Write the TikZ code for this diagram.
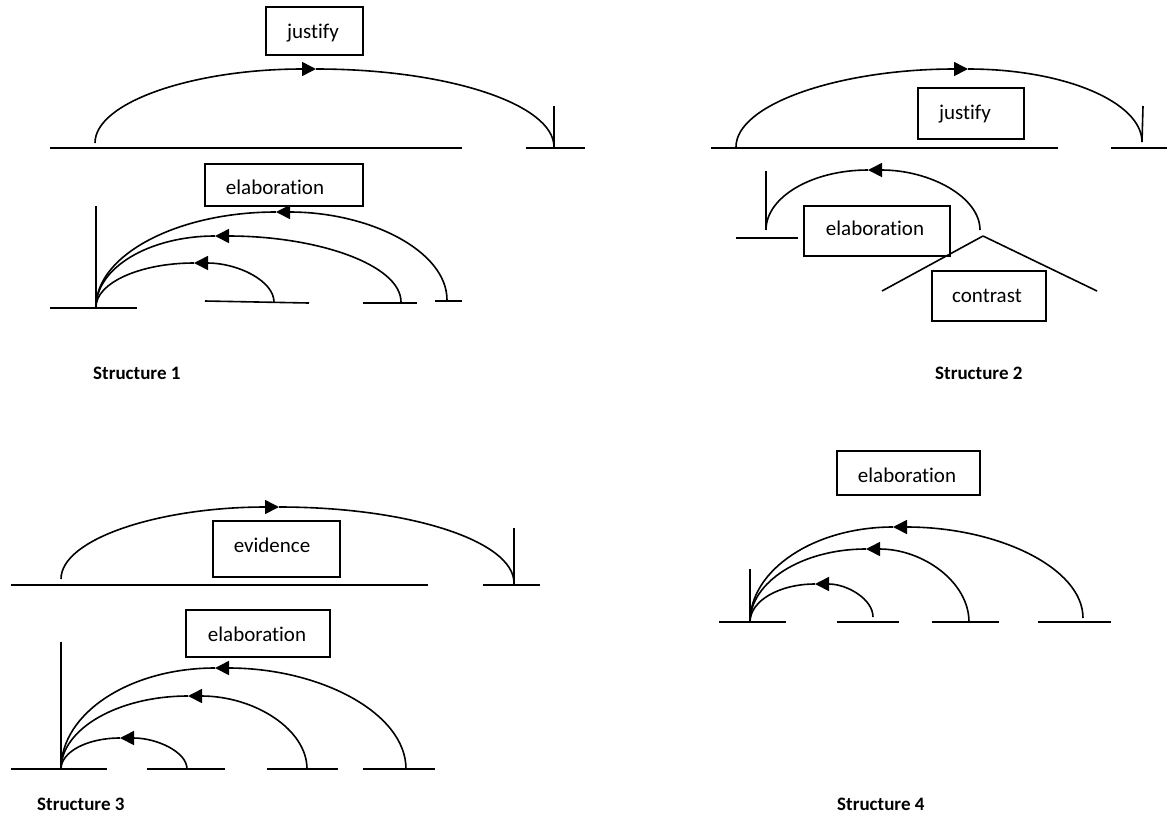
\documentclass[tikz,border=0pt]{standalone}
\usepackage{fontspec}
\setmainfont{Carlito}[Ligatures=NoCommon]
\usetikzlibrary{arrows.meta}
\begin{document}
\begin{tikzpicture}[x=1pt,y=-1pt,
  ln/.style={line width=1.6pt},
  tipped/.style={ln,-{Triangle[length=14pt,width=14pt]}},
  relbox/.style={draw,line width=1.4pt,inner sep=0pt},
  reltext/.style={anchor=base,inner sep=0pt,font=\fontsize{21}{25}\selectfont},
  caption/.style={anchor=base west,inner sep=0pt,font=\bfseries\fontsize{19}{23}\selectfont}]
\useasboundingbox (0,0) rectangle (1173,815);

% ---------------- Structure 1 ----------------
\node[relbox,minimum width=97pt,minimum height=48pt] (s1jbox) at (314.5,31) {};
\node[reltext] (s1jtxt) at (313,38) {justify};
\node[relbox,minimum width=158pt,minimum height=42pt] (s1ebox) at (284,185) {};
\node[reltext] (s1etxt) at (275,194) {elaboration};

\coordinate (s1la) at (50,148);  \coordinate (s1lb) at (462,148);
\coordinate (s1ra) at (526,148); \coordinate (s1rb) at (585,148);
\coordinate (s1tt) at (554,106); \coordinate (s1tb) at (554,148);
\draw[ln] (s1la) -- (s1lb);
\draw[ln] (s1ra) -- (s1rb);
\draw[ln] (s1tt) -- (s1tb);
\coordinate (s1S) at (95,143); \coordinate (s1P) at (316,69); \coordinate (s1E) at (554,147);
\draw[tipped] (s1S) .. controls +(0,-41) and +(-122,0) .. (s1P);
\draw[ln] (s1P) .. controls +(131,0) and +(0,-43) .. (s1E);

\coordinate (s1vt) at (96,206); \coordinate (s1O) at (96,307);
\draw[ln] (s1vt) -- (s1O);
\coordinate (s1b0a) at (50,308);  \coordinate (s1b0b) at (137,308);
\coordinate (s1b1a) at (205,301); \coordinate (s1b1b) at (309,303);
\coordinate (s1b2a) at (363,303); \coordinate (s1b2b) at (417,303);
\coordinate (s1b3a) at (435,301); \coordinate (s1b3b) at (462,301);
\draw[ln] (s1b0a) -- (s1b0b);
\draw[ln] (s1b1a) -- (s1b1b);
\draw[ln] (s1b2a) -- (s1b2b);
\draw[ln] (s1b3a) -- (s1b3b);
% fan of elaboration arcs
\coordinate (s1P1) at (194,263); \coordinate (s1E1) at (274,302);
\coordinate (s1P2) at (215,236); \coordinate (s1E2) at (401,302);
\coordinate (s1P3) at (276,212); \coordinate (s1E3) at (447,300);
\draw[tipped] (s1E1) .. controls +(0,-21) and +(44,0) .. (s1P1);
\draw[ln] (s1P1) .. controls +(-54,0) and +(0,-24) .. (s1O);
\draw[tipped] (s1E2) .. controls +(0,-37) and +(103,0) .. (s1P2);
\draw[ln] (s1P2) .. controls +(-66,0) and +(0,-39) .. (s1O);
\draw[tipped] (s1E3) .. controls +(0,-49) and +(94,0) .. (s1P3);
\draw[ln] (s1P3) .. controls +(-99,0) and +(0,-52) .. (s1O);

\node[caption] (cap1) at (93,379) {Structure 1};

% ---------------- Structure 2 ----------------
\node[relbox,minimum width=106pt,minimum height=51pt] (s2jbox) at (971,113.5) {};
\node[reltext] (s2jtxt) at (965,119) {justify};
\coordinate (s2la) at (711,148);  \coordinate (s2lb) at (1058,148);
\coordinate (s2ra) at (1111,148); \coordinate (s2rb) at (1167,148);
\coordinate (s2tt) at (1143,106); \coordinate (s2tb) at (1142,142);
\draw[ln] (s2la) -- (s2lb);
\draw[ln] (s2ra) -- (s2rb);
\draw[ln] (s2tt) -- (s2tb);
\coordinate (s2S) at (736,147); \coordinate (s2P) at (968,69); \coordinate (s2E) at (1142,142);
\draw[tipped] (s2S) .. controls +(0,-43) and +(-128,0) .. (s2P);
\draw[ln] (s2P) .. controls +(96,0) and +(0,-40) .. (s2E);

\coordinate (s2vt) at (766,171); \coordinate (s2O) at (766,230);
\draw[ln] (s2vt) -- (s2O);
\coordinate (s2sa) at (736,238); \coordinate (s2sb) at (798,238);
\draw[ln] (s2sa) -- (s2sb);
\coordinate (s2P1) at (868,170); \coordinate (s2E1) at (980,230);
\draw[tipped] (s2E1) .. controls +(0,-33) and +(62,0) .. (s2P1);
\draw[ln] (s2P1) .. controls +(-56,0) and +(0,-33) .. (s2O);
\node[relbox,minimum width=146pt,minimum height=50pt] (s2ebox) at (877,231) {};
\node[reltext] (s2etxt) at (875,235) {elaboration};

\coordinate (s2apex) at (983,236);
\coordinate (s2legl) at (882,291); \coordinate (s2legr) at (1097,291);
\draw[ln] (s2apex) -- (s2legl);
\draw[ln] (s2apex) -- (s2legr);
\node[relbox,minimum width=114pt,minimum height=50pt] (s2cbox) at (989,296) {};
\node[reltext] (s2ctxt) at (987,302) {contrast};

\node[caption] (cap2) at (935,379) {Structure 2};

% ---------------- Structure 3 ----------------
\node[relbox,minimum width=127pt,minimum height=56pt] (s3vbox) at (276.5,549) {};
\node[reltext] (s3vtxt) at (272,552) {evidence};
\coordinate (s3la) at (11,585);  \coordinate (s3lb) at (428,585);
\coordinate (s3ra) at (483,585); \coordinate (s3rb) at (540,585);
\coordinate (s3tt) at (514,528); \coordinate (s3tb) at (514,585);
\draw[ln] (s3la) -- (s3lb);
\draw[ln] (s3ra) -- (s3rb);
\draw[ln] (s3tt) -- (s3tb);
\coordinate (s3S) at (61,579); \coordinate (s3P) at (279,507); \coordinate (s3E) at (514,583);
\draw[tipped] (s3S) .. controls +(0,-40) and +(-120,0) .. (s3P);
\draw[ln] (s3P) .. controls +(130,0) and +(0,-42) .. (s3E);

\node[relbox,minimum width=144pt,minimum height=47pt] (s3ebox) at (258,633.5) {};
\node[reltext] (s3etxt) at (257,641) {elaboration};
\coordinate (s3vt) at (61,642); \coordinate (s3O) at (61,769);
\draw[ln] (s3vt) -- (s3O);
\coordinate (s3b0a) at (11,769);  \coordinate (s3b0b) at (107,769);
\coordinate (s3b1a) at (147,769); \coordinate (s3b1b) at (225,769);
\coordinate (s3b2a) at (267,769); \coordinate (s3b2b) at (338,769);
\coordinate (s3b3a) at (363,769); \coordinate (s3b3b) at (435,769);
\draw[ln] (s3b0a) -- (s3b0b);
\draw[ln] (s3b1a) -- (s3b1b);
\draw[ln] (s3b2a) -- (s3b2b);
\draw[ln] (s3b3a) -- (s3b3b);
\coordinate (s3P1) at (120,738); \coordinate (s3E1) at (187,769);
\coordinate (s3P2) at (188,696); \coordinate (s3E2) at (307,769);
\coordinate (s3P3) at (215,668); \coordinate (s3E3) at (406,769);
\draw[tipped] (s3E1) .. controls +(0,-17) and +(37,0) .. (s3P1);
\draw[ln] (s3P1) .. controls +(-33,0) and +(0,-17) .. (s3O);
\draw[tipped] (s3E2) .. controls +(0,-40) and +(66,0) .. (s3P2);
\draw[ln] (s3P2) .. controls +(-70,0) and +(0,-40) .. (s3O);
\draw[tipped] (s3E3) .. controls +(0,-56) and +(105,0) .. (s3P3);
\draw[ln] (s3P3) .. controls +(-85,0) and +(0,-56) .. (s3O);

\node[caption] (cap3) at (37,810) {Structure 3};

% ---------------- Structure 4 ----------------
\node[relbox,minimum width=143pt,minimum height=44pt] (s4ebox) at (908.5,473) {};
\node[reltext] (s4etxt) at (907,482) {elaboration};
\coordinate (s4vt) at (750,569); \coordinate (s4O) at (750,622);
\draw[ln] (s4vt) -- (s4O);
\coordinate (s4b0a) at (719,622);  \coordinate (s4b0b) at (786,622);
\coordinate (s4b1a) at (837,622);  \coordinate (s4b1b) at (899,622);
\coordinate (s4b2a) at (932,622);  \coordinate (s4b2b) at (999,622);
\coordinate (s4b3a) at (1038,622); \coordinate (s4b3b) at (1111,622);
\draw[ln] (s4b0a) -- (s4b0b);
\draw[ln] (s4b1a) -- (s4b1b);
\draw[ln] (s4b2a) -- (s4b2b);
\draw[ln] (s4b3a) -- (s4b3b);
\coordinate (s4P1) at (815,584); \coordinate (s4E1) at (873,617);
\coordinate (s4P2) at (866,549); \coordinate (s4E2) at (969,622);
\coordinate (s4P3) at (893,527); \coordinate (s4E3) at (1083,618);
\draw[tipped] (s4E1) .. controls +(0,-18) and +(32,0) .. (s4P1);
\draw[ln] (s4P1) .. controls +(-36,0) and +(0,-21) .. (s4O);
\draw[tipped] (s4E2) .. controls +(0,-40) and +(57,0) .. (s4P2);
\draw[ln] (s4P2) .. controls +(-64,0) and +(0,-40) .. (s4O);
\draw[tipped] (s4E3) .. controls +(0,-50) and +(105,0) .. (s4P3);
\draw[ln] (s4P3) .. controls +(-79,0) and +(0,-52) .. (s4O);

\node[caption] (cap4) at (837,810) {Structure 4};
\end{tikzpicture}
\end{document}
